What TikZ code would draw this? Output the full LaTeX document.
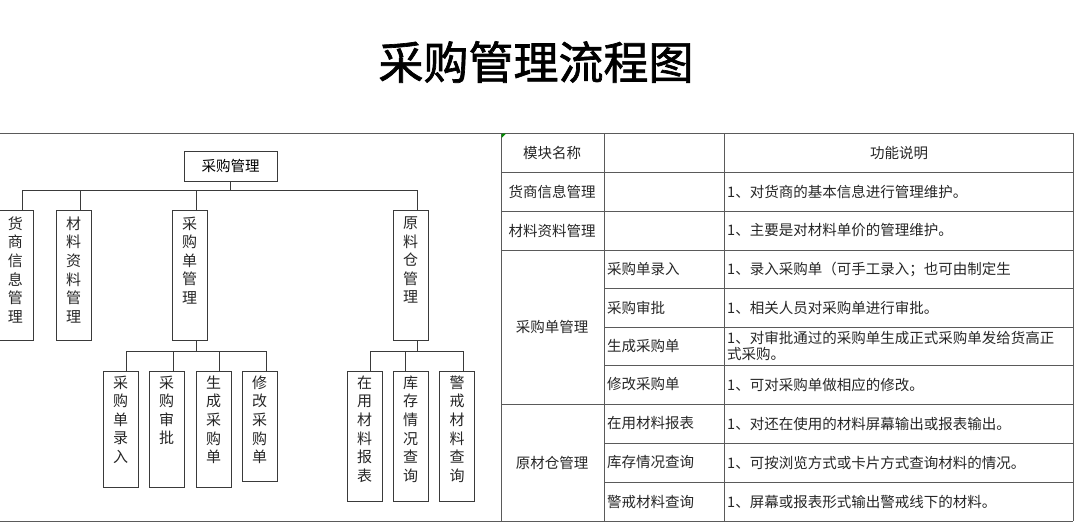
\documentclass[tikz,border=0pt]{standalone}
\usepackage{fontspec}
\newfontfamily\cjk{Noto Sans CJK SC}
\newfontfamily\cjktitle[FakeBold=1.5]{Noto Sans CJK SC}
\definecolor{linec}{HTML}{3A3A3A}
\definecolor{gridc}{HTML}{5A5A5A}
\begin{document}
\begin{tikzpicture}[x=1pt,y=-1pt,
  box/.style={draw=linec, line width=0.9pt, minimum width=35pt, inner sep=0pt, anchor=north},
  vtext/.style={font=\cjk\fontsize{15}{18.6}\selectfont, align=center, inner sep=0pt, anchor=north, text=black!85},
  conn/.style={draw=linec, line width=0.9pt},
  grid/.style={draw=gridc, line width=0.9pt},
  cell/.style={font=\cjk\fontsize{14.5}{16}\selectfont, inner sep=0pt, text=black!85},
]
\useasboundingbox (0,0) rectangle (1080,525);

% title
\node[font=\cjktitle\fontsize{45}{45}\selectfont, inner sep=0pt] (title) at (536,62) {采购管理流程图};

% frame lines
\draw[grid] (0,133) -- (1073,133);
\draw[grid] (0,521) -- (1073,521);

% ---------- tree ----------
\node[box, minimum width=93pt, minimum height=30pt, font=\cjk\fontsize{14.5}{15}\selectfont] (root) at (230.5,151) {采购管理};

\node[box, minimum height=130pt] (c1) at (15.5,210) {};
\node[box, minimum height=130pt] (c2) at (73.5,210) {};
\node[box, minimum height=130pt] (c3) at (189.5,210) {};
\node[box, minimum height=130pt] (c4) at (410.5,210) {};
\node[vtext] (t1) at ([yshift=-6.5pt]c1.north) {货\\商\\信\\息\\管\\理};
\node[vtext] (t2) at ([yshift=-6.5pt]c2.north) {材\\料\\资\\料\\管\\理};
\node[vtext] (t3) at ([yshift=-6.5pt]c3.north) {采\\购\\单\\管\\理};
\node[vtext] (t4) at ([yshift=-6.5pt]c4.north) {原\\料\\仓\\管\\理};

\node[box, minimum height=116pt] (g1) at (120.5,371) {};
\node[box, minimum height=116pt] (g2) at (166.5,371) {};
\node[box, minimum height=116pt] (g3) at (213.5,371) {};
\node[box, minimum height=110pt] (g4) at (259.5,371) {};
\node[box, minimum height=130pt] (g5) at (364.5,371) {};
\node[box, minimum height=130pt] (g6) at (410.5,371) {};
\node[box, minimum height=130pt] (g7) at (457,371) {};
\node[vtext] (s1) at ([yshift=-4.5pt]g1.north) {采\\购\\单\\录\\入};
\node[vtext] (s2) at ([yshift=-4.5pt]g2.north) {采\\购\\审\\批};
\node[vtext] (s3) at ([yshift=-4.5pt]g3.north) {生\\成\\采\\购\\单};
\node[vtext] (s4) at ([yshift=-4.5pt]g4.north) {修\\改\\采\\购\\单};
\node[vtext] (s5) at ([yshift=-4.5pt]g5.north) {在\\用\\材\\料\\报\\表};
\node[vtext] (s6) at ([yshift=-4.5pt]g6.north) {库\\存\\情\\况\\查\\询};
\node[vtext] (s7) at ([yshift=-4.5pt]g7.north) {警\\戒\\材\\料\\查\\询};

% level 1 connectors
\coordinate (bus1) at (0,190);
\draw[conn] (root.south) -- (root.south |- bus1);
\draw[conn] ([xshift=6.5pt]c1.north) |- ([xshift=6.5pt]c4.north |- bus1) -- ([xshift=6.5pt]c4.north);
\draw[conn] ([xshift=6.5pt]c2.north) -- ([xshift=6.5pt]c2.north |- bus1);
\draw[conn] ([xshift=6.5pt]c3.north) -- ([xshift=6.5pt]c3.north |- bus1);

% level 2 connectors (c3)
\coordinate (bus2) at (0,351);
\draw[conn] ([xshift=6.5pt]c3.south) -- ([xshift=6.5pt]c3.south |- bus2);
\draw[conn] ([xshift=5.5pt]g1.north) |- ([xshift=6.5pt]g4.north |- bus2) -- ([xshift=6.5pt]g4.north);
\draw[conn] ([xshift=6.5pt]g2.north) -- ([xshift=6.5pt]g2.north |- bus2);
\draw[conn] ([xshift=5.5pt]g3.north) -- ([xshift=5.5pt]g3.north |- bus2);

% level 2 connectors (c4)
\draw[conn] ([xshift=6.5pt]c4.south) -- ([xshift=6.5pt]c4.south |- bus2);
\draw[conn] ([xshift=5.5pt]g5.north) |- ([xshift=6pt]g7.north |- bus2) -- ([xshift=6pt]g7.north);
\draw[conn] ([xshift=-5.5pt]g6.north) -- ([xshift=-5.5pt]g6.north |- bus2);

% ---------- table ----------
\draw[grid] (501,133) -- (501,521);
\draw[grid] (604,133) -- (604,521);
\draw[grid] (724,133) -- (724,521);
\draw[grid] (1073,133) -- (1073,521);
\foreach \yy in {172,211,250,404} \draw[grid] (501,\yy) -- (1073,\yy);
\foreach \yy in {288,327,365,443,482} \draw[grid] (604,\yy) -- (1073,\yy);
\fill[green!55!black] (501.5,133.5) -- (506,133.5) -- (501.5,138) -- cycle;

\node[cell] (h1) at (552,153) {模块名称};
\node[cell] (h3) at (899,153) {功能说明};

\node[cell] (m1) at (552,191.5) {货商信息管理};
\node[cell] (m2) at (552,230.5) {材料资料管理};
\node[cell] (m3) at (552,327) {采购单管理};
\node[cell] (m4) at (552,462.5) {原材仓管理};

\node[cell, anchor=west] (n1) at (607,269) {采购单录入};
\node[cell, anchor=west] (n2) at (607,307.5) {采购审批};
\node[cell, anchor=west] (n3) at (607,346) {生成采购单};
\node[cell, anchor=west] (n4) at (607,384.5) {修改采购单};
\node[cell, anchor=west] (n5) at (607,423.5) {在用材料报表};
\node[cell, anchor=west] (n6) at (607,462.5) {库存情况查询};
\node[cell, anchor=west] (n7) at (607,501.5) {警戒材料查询};

\node[cell, anchor=west] (d1) at (727,191.5) {1、对货商的基本信息进行管理维护。};
\node[cell, anchor=west] (d2) at (727,230.5) {1、主要是对材料单价的管理维护。};
\node[cell, anchor=west] (d3) at (727,269) {1、录入采购单（可手工录入；也可由制定生};
\node[cell, anchor=west] (d4) at (727,307.5) {1、相关人员对采购单进行审批。};
\node[cell, anchor=north west, align=left] (d5) at (727,331.5) {1、对审批通过的采购单生成正式采购单发给货高正\\式采购。};
\node[cell, anchor=west] (d6) at (727,384.5) {1、可对采购单做相应的修改。};
\node[cell, anchor=west] (d7) at (727,423.5) {1、对还在使用的材料屏幕输出或报表输出。};
\node[cell, anchor=west] (d8) at (727,462.5) {1、可按浏览方式或卡片方式查询材料的情况。};
\node[cell, anchor=west] (d9) at (727,501.5) {1、屏幕或报表形式输出警戒线下的材料。};
\end{tikzpicture}
\end{document}
